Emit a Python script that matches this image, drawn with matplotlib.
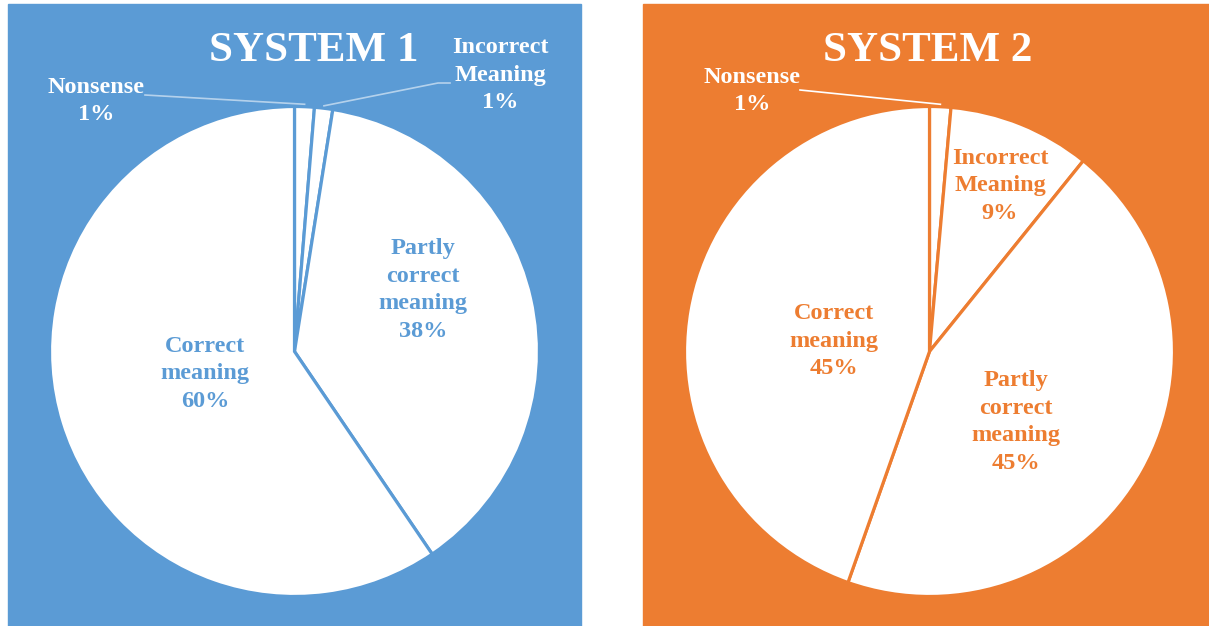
import matplotlib.pyplot as plt
import numpy as np
from matplotlib.patches import Rectangle

# Dados (sentido horário a partir das 12h)
categorias = ["Nonsense", "Incorrect\nMeaning", "Partly\ncorrect\nmeaning", "Correct\nmeaning"]
sistema1 = [1.3, 1.2, 38.0, 59.5]
sistema2 = [1.4, 9.4, 44.6, 44.6]
titulos = ["SYSTEM 1", "SYSTEM 2"]

azul = '#5B9BD5'
laranja = '#ED7D31'
H = 626

plt.rcParams['font.family'] = ['Liberation Serif', 'DejaVu Serif']

fig = plt.figure(figsize=(12.09, 6.26), dpi=100)
ax = fig.add_axes([0, 0, 1, 1])

# Fundos dos painéis (em pixels)
ax.add_patch(Rectangle((8, 0), 573, H - 4, color=azul, zorder=0))
ax.add_patch(Rectangle((643, 0), 566, H - 4, color=laranja, zorder=0))

paineis = [
    dict(valores=sistema1, cor=azul, centro=(294.5, 351.5), titulo_x=314,
         # posições dos rótulos (pixels da imagem) + pontos da linha guia
         rotulos=[(96, 101, 'out', [(145, 95)]),
                  (500, 75, 'out', [(450, 83), (438, 83)]),
                  (423, 290, 'in', None), (205, 374, 'in', None)]),
    dict(valores=sistema2, cor=laranja, centro=(929.5, 351.5), titulo_x=928,
         rotulos=[(752, 91, 'out', [(800, 90)]), (1000, 186, 'in', None),
                  (1016, 422, 'in', None), (834, 341, 'in', None)]),
]
raio = 245

for p, titulo in zip(paineis, titulos):
    cx, cy = p['centro']
    wedges, _ = ax.pie(p['valores'], center=(cx, H - cy), radius=raio,
                       startangle=90, counterclock=False, frame=True,
                       colors=['white'] * 4,
                       wedgeprops=dict(edgecolor=p['cor'], linewidth=2.3))
    for w in wedges:
        w.set_zorder(2)

    ax.text(p['titulo_x'], H - 51, titulo, ha='center', va='center',
            fontsize=31, fontweight='bold', color='white')

    for w, cat, val, (lx, ly, modo, guia) in zip(wedges, categorias, p['valores'], p['rotulos']):
        txt = f"{cat}\n{round(val):.0f}%"
        cor = 'white' if modo == 'out' else p['cor']
        ax.text(lx, H - ly, txt, ha='center', va='center', fontsize=17.5,
                fontweight='bold', color=cor, linespacing=1.42, zorder=5)
        if modo == 'out':
            ang = np.deg2rad((w.theta1 + w.theta2) / 2)
            px = cx + raio * 1.01 * np.cos(ang)
            py = (H - cy) + raio * 1.01 * np.sin(ang)
            xs = [g[0] for g in guia] + [px]
            ys = [H - g[1] for g in guia] + [py]
            ax.plot(xs, ys, color='white',
                    alpha=0.55 if p['cor'] == azul else 1.0, lw=1.2, zorder=4)

ax.set_xlim(0, 1209)
ax.set_ylim(0, H)
ax.set_axis_off()

fig.savefig('out.png', dpi=100, facecolor='white')
